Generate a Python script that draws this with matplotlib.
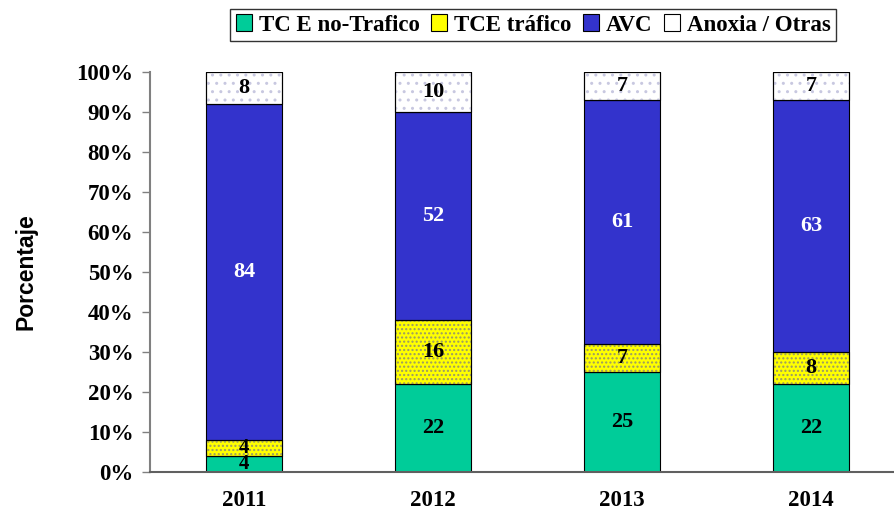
import numpy as np
import matplotlib
matplotlib.use("Agg")
import matplotlib.pyplot as plt
from matplotlib.patches import Patch

# data (counts per year, each year sums to 100)
years = ["2011", "2012", "2013", "2014"]
series_names = ["TC E no-Trafico", "TCE tráfico", "AVC", "Anoxia / Otras"]
tce_no_trafico = [4, 22, 25, 22]
tce_trafico = [4, 16, 7, 8]
avc = [84, 52, 61, 63]
anoxia = [8, 10, 7, 7]

colors = ["#00CC99", "#FFFF00", "#3333CC", "#FFFFFF"]
hatches = [None, "....", None, ".."]
hatch_colors = [None, "#999966", None, "#C8C8E0"]
label_colors = ["black", "black", "white", "black"]

serif = "Liberation Serif"
sans = "Liberation Sans"

values = np.array([tce_no_trafico, tce_trafico, avc, anoxia], dtype=float)
totals = values.sum(axis=0)
pct = values / totals * 100

fig = plt.figure(figsize=(8.95, 5.17), dpi=100)
ax = fig.add_axes([150 / 895, 45 / 517, 743 / 895, 400 / 517])

x = np.arange(len(years))
width = 0.40
bottom = np.zeros(len(years))
for i in range(len(series_names)):
    ax.bar(x, pct[i], width, bottom=bottom, color=colors[i],
           edgecolor="black", linewidth=0.8, zorder=2)
    if hatches[i]:
        ax.bar(x, pct[i], width, bottom=bottom, color="none",
               edgecolor=hatch_colors[i], hatch=hatches[i], linewidth=0,
               zorder=3)
        ax.bar(x, pct[i], width, bottom=bottom, color="none",
               edgecolor="black", linewidth=0.8, zorder=4)
    for j in range(len(years)):
        # small segments get slightly smaller labels so they don't collide
        fs = 16 if pct[i][j] >= 5 else 15
        ax.text(x[j], bottom[j] + pct[i][j] / 2, f"{values[i][j]:.0f}",
                ha="center", va="center", color=label_colors[i],
                fontsize=fs, fontweight="bold", family=serif, zorder=5)
    bottom += pct[i]

ax.set_xlim(-0.497, 3.434)
ax.set_ylim(0, 100)
ax.set_yticks(np.arange(0, 101, 10))
ax.set_yticklabels([f"{v}%" for v in range(0, 101, 10)])
ax.set_xticks(x)
ax.set_xticklabels(years)
for lab in ax.get_yticklabels() + ax.get_xticklabels():
    lab.set_family(serif)
    lab.set_fontweight("bold")
    lab.set_fontsize(16.5)
ax.tick_params(axis="y", direction="out", length=6, color="#808080",
               width=1, pad=6)
ax.tick_params(axis="x", length=0, pad=13)

ax.spines["top"].set_visible(False)
ax.spines["right"].set_visible(False)
ax.spines["left"].set_color("#808080")
ax.spines["bottom"].set_color("#606060")
ax.spines["left"].set_linewidth(1.5)
ax.spines["bottom"].set_linewidth(1.5)

ax.set_ylabel("Porcentaje", family=sans, fontweight="bold", fontsize=16.5)
ax.yaxis.set_label_coords(-113 / 743, 0.5)

handles = []
for i in range(len(series_names)):
    handles.append(Patch(facecolor=colors[i], edgecolor="black",
                         linewidth=0.8, label=series_names[i]))
leg = fig.legend(handles=handles, loc="center",
                 bbox_to_anchor=(533 / 895, 1 - 25 / 517), ncol=4,
                 frameon=True, fancybox=False, handlelength=0.7,
                 handleheight=0.7, handletextpad=0.3, columnspacing=0.5,
                 borderpad=0.25,
                 prop={"family": serif, "weight": "bold", "size": 16.5})
leg.get_frame().set_edgecolor("black")
leg.get_frame().set_linewidth(1.0)

fig.savefig("out.png", dpi=100)
